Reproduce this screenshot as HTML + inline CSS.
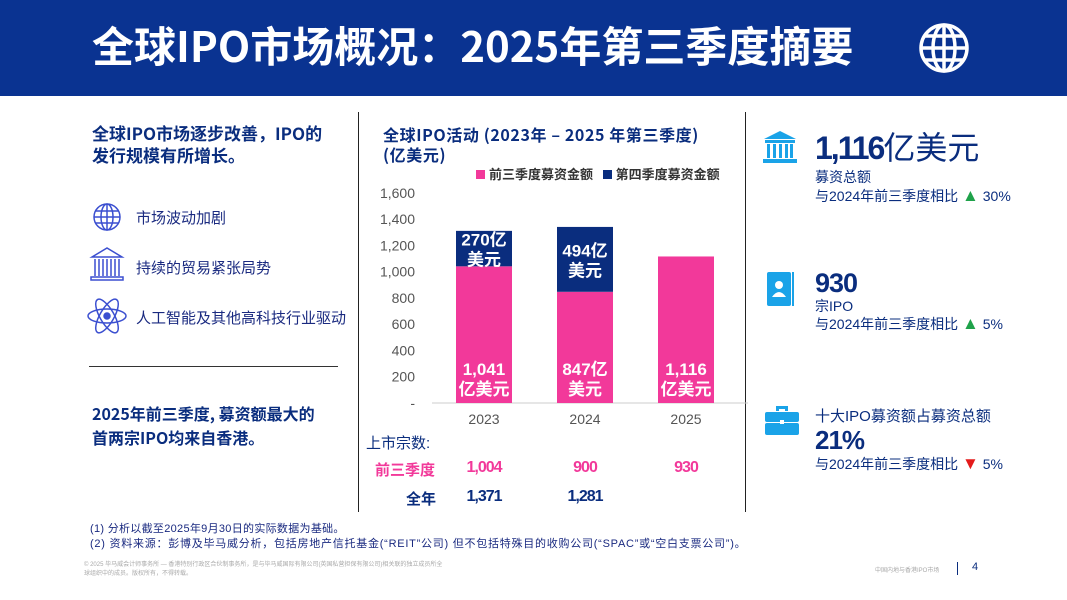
<!DOCTYPE html>
<html><head><meta charset="utf-8">
<style>
*{margin:0;padding:0;box-sizing:border-box}
body{width:1067px;height:600px;background:#fff;font-family:"Liberation Sans","Noto Sans CJK SC",sans-serif;position:relative;overflow:hidden;color:#0a2d7e}
.a{position:absolute;white-space:nowrap}
#hdr{left:0;top:0;width:1067px;height:96px;background:#0a3391}
.b{font-weight:bold}
.pk{color:#f2399a}
.sm{font-size:14px;color:#0a2d7e}
.tri{font-size:17px}
</style></head><body>
<div class="a" id="hdr"></div>
<div class="a b" style="left:92px;top:16px;font-size:42px;color:#fff;font-family:'Noto Sans CJK SC',sans-serif;line-height:58px">全球IPO市场概况：2025年第三季度摘要</div>
<svg class="a" style="left:918px;top:22px" width="52" height="52" viewBox="0 0 52 52" fill="none" stroke="#fff" stroke-width="3.5"><circle cx="26" cy="26" r="23"/><ellipse cx="26" cy="26" rx="11" ry="23"/><line x1="26" y1="3" x2="26" y2="49"/><line x1="3" y1="26" x2="49" y2="26"/><path d="M7 14H45M7 38H45"/></svg>

<div class="a b" style="left:92px;top:122px;font-size:17px;line-height:22px;font-family:'Noto Sans CJK SC',sans-serif">全球IPO市场逐步改善，IPO的<br>发行规模有所增长。</div>
<svg class="a" style="left:92px;top:202px" width="30" height="30" viewBox="0 0 30 30" fill="none" stroke="#3b4fd0" stroke-width="1.5"><circle cx="15" cy="15" r="13"/><ellipse cx="15" cy="15" rx="6" ry="13"/><line x1="15" y1="2" x2="15" y2="28"/><line x1="2" y1="15" x2="28" y2="15"/><path d="M4 9H26M4 21H26"/></svg>
<div class="a" style="left:136px;top:207px;font-size:15px;color:#1a2a80">市场波动加剧</div>
<svg class="a" style="left:89px;top:246px" width="36" height="36" viewBox="0 0 36 36" fill="none" stroke="#3b4fd0" stroke-width="1.5"><path d="M3 11L18 2L33 11Z"/><path d="M6 13V30M10 13V30M14 13V30M18 13V30M22 13V30M26 13V30M30 13V30"/><path d="M2 31H34V34H2Z"/></svg>
<div class="a" style="left:136px;top:257px;font-size:15px;color:#1a2a80">持续的贸易紧张局势</div>
<svg class="a" style="left:86px;top:296px" width="42" height="40" viewBox="0 0 42 40" fill="none" stroke="#3b4fd0" stroke-width="1.5"><ellipse cx="21" cy="20" rx="19" ry="7"/><ellipse cx="21" cy="20" rx="19" ry="7" transform="rotate(60 21 20)"/><ellipse cx="21" cy="20" rx="19" ry="7" transform="rotate(-60 21 20)"/><circle cx="21" cy="20" r="3" fill="#3b4fd0"/></svg>
<div class="a" style="left:136px;top:307px;font-size:15px;color:#1a2a80">人工智能及其他高科技行业驱动</div>
<div class="a" style="left:89px;top:366px;width:249px;height:1px;background:#333"></div>
<div class="a b" style="left:92px;top:401px;font-size:16px;line-height:24px;font-family:'Noto Sans CJK SC',sans-serif">2025年前三季度, 募资额最大的<br>首两宗IPO均来自香港。</div>

<div class="a" style="left:358px;top:112px;width:1px;height:400px;background:#222"></div>
<div class="a" style="left:745px;top:112px;width:1px;height:400px;background:#222"></div>

<div class="a b" style="left:383px;top:124px;font-size:16px;line-height:20px;font-family:'Noto Sans CJK SC',sans-serif;letter-spacing:0.6px">全球IPO活动 (2023年 – 2025 年第三季度)<br>(亿美元)</div>
<div class="a" style="left:476px;top:164px;font-size:13px;color:#333;font-weight:bold"><span style="display:inline-block;width:9px;height:9px;background:#f2399a;margin-right:4px"></span>前三季度募资金额 <span style="display:inline-block;width:9px;height:9px;background:#0a2d7e;margin:0 4px 0 6px"></span>第四季度募资金额</div>
<svg class="a" id="chart" style="left:360px;top:180px" width="390" height="250"></svg>

<div class="a" style="left:366px;top:432px;font-size:15px;color:#0a2d7e">上市宗数:</div>
<div class="a b pk" style="left:375px;top:459px;font-size:15px">前三季度</div>
<div class="a b" style="left:406px;top:488px;font-size:15px">全年</div>
<div id="counts"></div>

<svg class="a" style="left:762px;top:131px" width="36" height="34" viewBox="0 0 36 34" fill="#1aa3e8"><path d="M18 0L34 8H2Z"/><rect x="3" y="9" width="30" height="3"/><rect x="5" y="13" width="3" height="14"/><rect x="11" y="13" width="3" height="14"/><rect x="17" y="13" width="3" height="14"/><rect x="23" y="13" width="3" height="14"/><rect x="28" y="13" width="3" height="14"/><rect x="1" y="28" width="34" height="4"/></svg>
<div class="a" style="left:815px;top:128px;font-size:32px;line-height:40px"><b style="letter-spacing:-2px">1,116</b>亿美元</div>
<div class="a sm" style="left:815px;top:167px">募资总额</div>
<div class="a sm" style="left:815px;top:186px">与2024年前三季度相比 <span class="tri" style="color:#1fa24a">▲</span> 30%</div>

<svg class="a" style="left:767px;top:272px" width="28" height="34" viewBox="0 0 28 34"><rect x="0" y="0" width="24" height="34" rx="2" fill="#1aa3e8"/><rect x="25" y="0" width="2" height="34" fill="#1aa3e8"/><circle cx="12" cy="13" r="4" fill="#fff"/><path d="M5 25Q12 15 19 25Z" fill="#fff"/></svg>
<div class="a b" style="left:815px;top:266px;font-size:27px;line-height:34px;letter-spacing:-1px">930</div>
<div class="a sm" style="left:815px;top:296px">宗IPO</div>
<div class="a sm" style="left:815px;top:314px">与2024年前三季度相比 <span class="tri" style="color:#1fa24a">▲</span> 5%</div>

<svg class="a" style="left:765px;top:406px" width="34" height="30" viewBox="0 0 34 30" fill="#1aa3e8"><path d="M11 0H23V5H20V3H14V5H11Z"/><rect x="0" y="6" width="34" height="10" rx="2"/><rect x="0" y="17" width="34" height="12" rx="2"/><rect x="15" y="14" width="4" height="4" fill="#fff"/></svg>
<div class="a sm" style="left:815px;top:405px;font-size:15px">十大IPO募资额占募资总额</div>
<div class="a b" style="left:815px;top:424px;font-size:26px;line-height:32px;letter-spacing:-1px">21%</div>
<div class="a sm" style="left:815px;top:454px">与2024年前三季度相比 <span class="tri" style="color:#e41b1b">▼</span> 5%</div>

<div class="a" style="left:90px;top:520px;font-size:11px;color:#1a2a80;letter-spacing:0.3px">(1)  分析以截至2025年9月30日的实际数据为基础。</div>
<div class="a" style="left:90px;top:535px;font-size:11px;color:#1a2a80;letter-spacing:0.75px">(2)  资料来源：彭博及毕马威分析，包括房地产信托基金(“REIT”公司) 但不包括特殊目的收购公司(“SPAC”或“空白支票公司”)。</div>
<div class="a" style="left:84px;top:561px;font-size:6px;color:#aaa;line-height:9px">© 2025 毕马威会计师事务所 — 香港特别行政区合伙制事务所，是与毕马威国际有限公司(英国私营担保有限公司)相关联的独立成员所全<br>球组织中的成员。版权所有，不得转载。</div>
<div class="a" style="left:875px;top:565px;font-size:6px;color:#aaa">中国内地与香港IPO市场</div>
<div class="a" style="left:957px;top:562px;width:1px;height:13px;background:#0a2d7e"></div>
<div class="a" style="left:972px;top:561px;font-size:11px">4</div>

<script>
const years=['2023','2024','2025'];
const q1q3=[1041,847,1116];
const q4=[270,494,0];
const q1q3Labels=['1,041\n亿美元','847亿\n美元','1,116\n亿美元'];
const q4Labels=['270亿\n美元','494亿\n美元',''];
const ticks=[0,200,400,600,800,1000,1200,1400,1600];
const tickLabels=['-','200','400','600','800','1,000','1,200','1,400','1,600'];
const countQ1Q3=['1,004','900','930'];
const countFull=['1,371','1,281',''];
const NS='http://www.w3.org/2000/svg';
const svg=document.getElementById('chart');
const y0=223,k=0.1313;
const yS=v=>y0-v*k;
const xC=i=>124+i*101;
const bw=56;
function mk(t,a){const e=document.createElementNS(NS,t);for(const n in a)e.setAttribute(n,a[n]);svg.appendChild(e);return e;}
ticks.forEach((t,i)=>{const e=mk('text',{x:55,y:yS(t)+5,'text-anchor':'end','font-size':'14','fill':'#555','font-family':'Liberation Sans'});e.textContent=tickLabels[i];

});
const ax=mk('line',{x1:72,x2:388,y1:y0,y2:y0,stroke:'#ccc'});


function lbl(txt,cx,cyTop){txt.split('\n').forEach((s,j)=>{if(!s)return;const e=mk('text',{x:cx,y:cyTop+j*20,'text-anchor':'middle','font-size':'17','font-weight':'bold','fill':'#fff','font-family':'Liberation Sans,Noto Sans CJK SC,sans-serif'});e.textContent=s;

});}
years.forEach((y,i)=>{
 const x=xC(i)-bw/2;
 const r1=mk('rect',{x:x,y:yS(q1q3[i]),width:bw,height:q1q3[i]*k,fill:'#f2399a'});
 
 
 if(q4[i]>0){const r2=mk('rect',{x:x,y:yS(q1q3[i]+q4[i]),width:bw,height:q4[i]*k,fill:'#0a2d7e'});
 
 
 const mid=yS(q1q3[i]+q4[i]/2);lbl(q4Labels[i],xC(i),mid-3);}
 lbl(q1q3Labels[i],xC(i),y0-28);
 const t=mk('text',{x:xC(i),y:y0+21,'text-anchor':'middle','font-size':'14','fill':'#555','font-family':'Liberation Sans'});t.textContent=y;
 
 
});
const cw=document.getElementById('counts');
years.forEach((y,i)=>{
 const a=document.createElement('div');a.className='a b pk';a.style.cssText='left:'+(360+xC(i)-40)+'px;top:459px;width:80px;text-align:center;font-size:16px;letter-spacing:-1px';a.textContent=countQ1Q3[i];
 
 
 cw.appendChild(a);
 if(countFull[i]){const b=document.createElement('div');b.className='a b';b.style.cssText='left:'+(360+xC(i)-40)+'px;top:488px;width:80px;text-align:center;font-size:16px;letter-spacing:-1px';b.textContent=countFull[i];
 
 
 cw.appendChild(b);}
});
</script>
</body></html>
